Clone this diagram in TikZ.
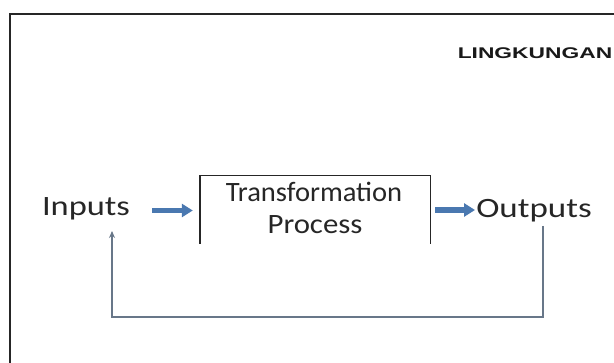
\documentclass[tikz,border=0pt]{standalone}
\usepackage{fontspec}
\setmainfont{Carlito}
\newfontfamily\lsans{Liberation Sans}
\usetikzlibrary{arrows.meta}
\definecolor{arrowblue}{HTML}{4A78B0}
\definecolor{fbgray}{HTML}{687789}
\tikzset{
  lbl/.style={anchor=base, inner sep=0pt, font=\fontsize{28}{30}\selectfont, text=black!85},
  flowarrow/.style={draw=arrowblue, line width=5.5pt, -{Triangle[length=11pt,width=13pt]}},
  fbline/.style={draw=fbgray, line width=1.4pt, -{Stealth[length=7pt,width=6pt]}},
  frame/.style={draw=black!85, line width=2pt},
  procbox/.style={draw=none, minimum width=230pt, minimum height=68pt, inner sep=0pt}
}
\begin{document}
\begin{tikzpicture}[x=1pt,y=-1pt]
\useasboundingbox[fill=white] (0,0) rectangle (614,363);
% outer environment frame (only top and left edges visible)
\coordinate (frBL) at (10,370);
\coordinate (frTL) at (10,14);
\coordinate (frTR) at (620,14);
\draw[frame] (frBL) -- (frTL) -- (frTR);
% environment label
\node[anchor=base, inner sep=0pt, font=\lsans\bfseries\fontsize{15.5}{17}\selectfont, text=black!90] (env) at (535,59) {\scalebox{1.47}[1]{LINGKUNGAN}};
% process box (open at the bottom)
\node[procbox] (proc) at (315,209.5) {};
\draw[line width=1.4pt, black!85] (proc.south west) -- (proc.north west) -- (proc.north east) -- (proc.south east);
\node[lbl] (t1) at (314,202) {\scalebox{1.02}[1]{Transformation}};
\node[lbl] (t2) at (315,234) {\scalebox{1.1}[1]{Process}};
% inputs / outputs
\node[lbl] (inp) at (86,216) {\scalebox{1.23}[1]{Inputs}};
\node[lbl] (outp) at (534,218) {\scalebox{1.25}[1]{Outputs}};
% flow arrows
\coordinate (a1s) at (152,210.5);
\coordinate (a1e) at (proc.west |- a1s);
\draw[flowarrow, shorten >=7pt] (a1s) -- (a1e);
\coordinate (a2s) at (proc.east |- 0,210);
\coordinate (a2e) at (475,210);
\draw[flowarrow, shorten <=5pt] (a2s) -- (a2e);
% feedback loop
\coordinate (fbtop) at (543,226);
\coordinate (fbend) at (112,231);
\draw[fbline] (fbtop) -- (543,317) -| (fbend);
\end{tikzpicture}
\end{document}
